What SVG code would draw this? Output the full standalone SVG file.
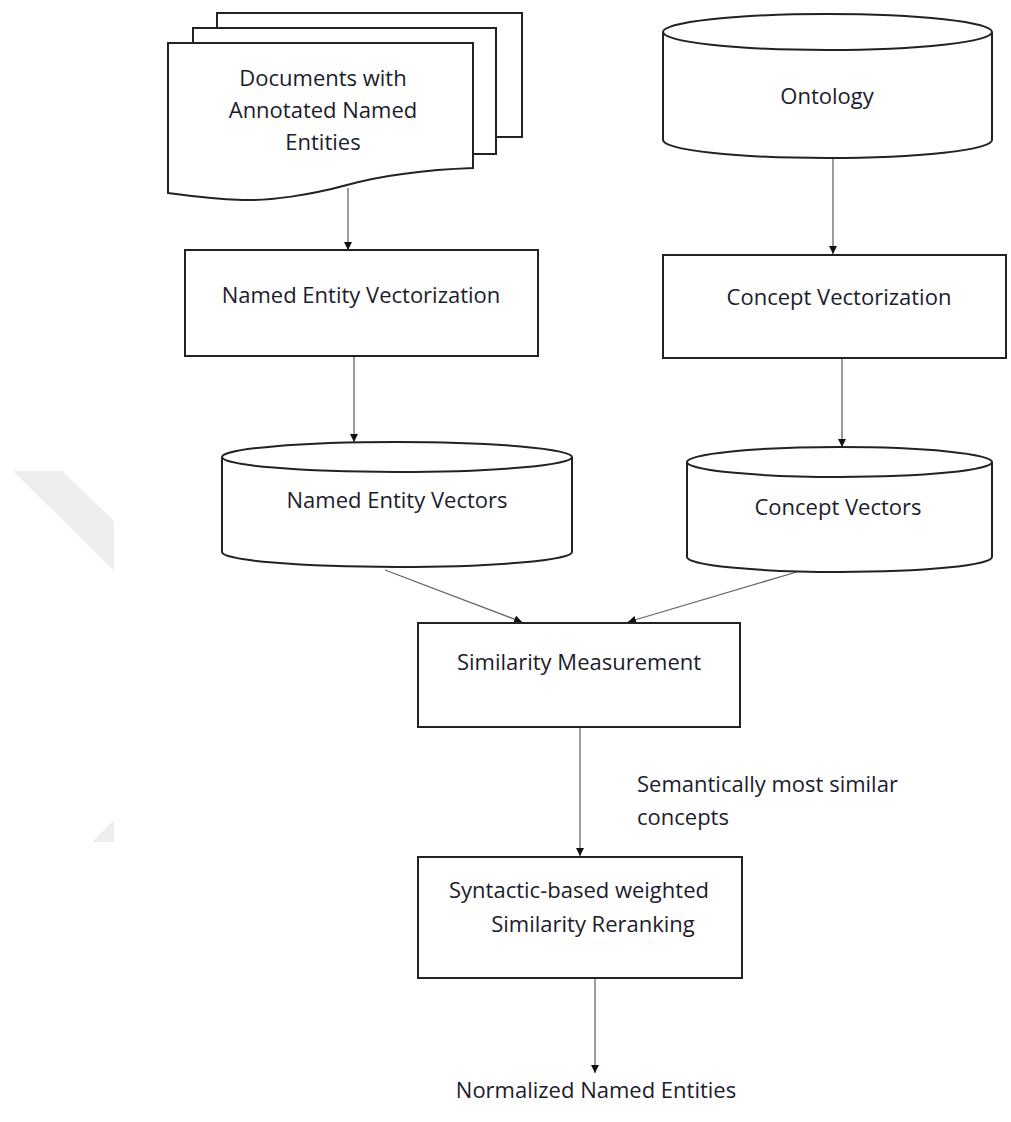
<svg xmlns="http://www.w3.org/2000/svg" width="1011" height="1122" viewBox="0 0 1011 1122">
  <defs>
    <marker id="arrow" viewBox="0 0 10 10" refX="10" refY="5" markerWidth="8" markerHeight="8" markerUnits="userSpaceOnUse" orient="auto">
      <path d="M0,0 L10,5 L0,10 Z" fill="#111"/>
    </marker>
    <style>
      .shape { fill: #fff; stroke: #222; stroke-width: 2; }
      .label { font-family: "Open Sans", "Liberation Sans", sans-serif; font-size: 22px; fill: #1c1c2c; text-anchor: middle; }
      .note { font-family: "Open Sans", "Liberation Sans", sans-serif; font-size: 22px; fill: #1c1c2c; }
      .link { fill: none; stroke: #666; stroke-width: 1.3; marker-end: url(#arrow); }
      .mark { fill: #eeeeee; }
    </style>
  </defs>

  <rect width="1011" height="1122" fill="#fff"/>

  <!-- faint background chevron -->
  <g id="backdrop">
    <polygon class="mark" points="13,471 62,471 114,521 114,571"/>
    <polygon class="mark" points="92,842 114,842 114,820"/>
  </g>

  <!-- connectors -->
  <g id="connectors">
    <line class="link" x1="348" y1="188" x2="348" y2="250"/>
    <line class="link" x1="833" y1="158" x2="833" y2="254"/>
    <line class="link" x1="354" y1="357" x2="354" y2="442"/>
    <line class="link" x1="842" y1="359" x2="842" y2="447"/>
    <line class="link" x1="385" y1="570" x2="522" y2="622"/>
    <line class="link" x1="800" y1="571" x2="628" y2="622"/>
    <line class="link" x1="580" y1="728" x2="580" y2="856"/>
    <line class="link" x1="595" y1="979" x2="595" y2="1073"/>
  </g>

  <!-- document stack -->
  <g id="documents">
    <rect class="shape" x="217" y="13" width="305" height="124"/>
    <rect class="shape" x="193" y="28" width="303" height="126"/>
    <path class="shape" d="M168,43 H473 V168 C420,170 380,176 347,185 C310,195 270,201 243,200 C215,199 190,196 168,193 Z"/>
    <text class="label" x="323" y="86">Documents with</text>
    <text class="label" x="323" y="118">Annotated Named</text>
    <text class="label" x="323" y="150">Entities</text>
  </g>

  <!-- ontology store -->
  <g id="ontology">
    <path class="shape" d="M663,32 V140 A164.5,18 0 0 0 992,140 V32"/>
    <ellipse class="shape" cx="827.5" cy="32" rx="164.5" ry="18"/>
    <text class="label" x="827" y="104">Ontology</text>
  </g>

  <g id="ne-vectorization">
    <rect class="shape" x="185" y="250" width="353" height="106"/>
    <text class="label" x="361" y="303">Named Entity Vectorization</text>
  </g>

  <g id="concept-vectorization">
    <rect class="shape" x="663" y="255" width="343" height="103"/>
    <text class="label" x="839" y="305">Concept Vectorization</text>
  </g>

  <g id="ne-vectors">
    <path class="shape" d="M222,457 V552 A175,15 0 0 0 572,552 V457"/>
    <ellipse class="shape" cx="397" cy="457" rx="175" ry="15"/>
    <text class="label" x="397" y="508">Named Entity Vectors</text>
  </g>

  <g id="concept-vectors">
    <path class="shape" d="M687,462 V557 A152.5,15 0 0 0 992,557 V462"/>
    <ellipse class="shape" cx="839.5" cy="462" rx="152.5" ry="15"/>
    <text class="label" x="838" y="515">Concept Vectors</text>
  </g>

  <g id="similarity">
    <rect class="shape" x="418" y="623" width="322" height="104"/>
    <text class="label" x="579" y="670">Similarity Measurement</text>
  </g>

  <g id="edge-label">
    <text class="note" x="637" y="792">Semantically most similar</text>
    <text class="note" x="637" y="825">concepts</text>
  </g>

  <g id="reranking">
    <rect class="shape" x="418" y="857" width="324" height="121"/>
    <text class="label" x="579" y="898">Syntactic-based weighted</text>
    <text class="label" x="593" y="932">Similarity Reranking</text>
  </g>

  <g id="output">
    <text class="label" x="596" y="1098">Normalized Named Entities</text>
  </g>
</svg>
